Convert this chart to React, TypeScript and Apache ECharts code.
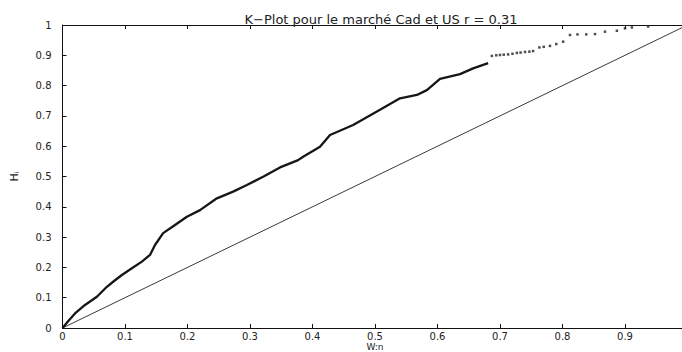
import React, { useEffect, useRef } from "react";
import * as echarts from "echarts";

// Main K-plot curve (W_{i:n}, H_i), dense part
const curveW = [0, 0.01, 0.02, 0.036, 0.055, 0.071, 0.083, 0.095, 0.111, 0.127, 0.14, 0.148, 0.161, 0.18, 0.199, 0.22, 0.247, 0.273, 0.295, 0.321, 0.348, 0.377, 0.385, 0.412, 0.428, 0.465, 0.508, 0.54, 0.567, 0.583, 0.604, 0.636, 0.657, 0.681];
const curveH = [0, 0.025, 0.048, 0.076, 0.103, 0.136, 0.156, 0.175, 0.197, 0.219, 0.241, 0.274, 0.313, 0.34, 0.367, 0.389, 0.428, 0.45, 0.472, 0.499, 0.53, 0.554, 0.565, 0.598, 0.637, 0.67, 0.72, 0.758, 0.769, 0.785, 0.822, 0.838, 0.857, 0.874];

// Sparse tail of the K-plot (individual points)
const tailW = [0.687, 0.694, 0.7, 0.706, 0.713, 0.72, 0.727, 0.733, 0.74, 0.747, 0.753, 0.763, 0.77, 0.78, 0.79, 0.801, 0.812, 0.824, 0.838, 0.852, 0.868, 0.887, 0.9, 0.911, 0.937];
const tailH = [0.898, 0.9, 0.901, 0.902, 0.903, 0.905, 0.908, 0.909, 0.911, 0.912, 0.914, 0.926, 0.928, 0.931, 0.937, 0.945, 0.967, 0.969, 0.969, 0.97, 0.978, 0.981, 0.989, 0.992, 0.995];

// Reference diagonal H = W
const diagW = [0, 1];
const diagH = [0, 1];

const titleText = "K\u2212Plot pour le marché Cad et US r = 0.31";
const xName = "W:n";

const fmt = (v: number) => {
  if (v === 0) return "0";
  if (Math.abs(v - 1) < 1e-9) return "1";
  return v.toFixed(1);
};

export default function App() {
  const ref = useRef<HTMLDivElement>(null);
  useEffect(() => {
    if (!ref.current) return;
    const chart = echarts.init(ref.current, null, { renderer: "svg" });
    const font = "DejaVu Sans";
    const axisLine = { show: true, onZero: false, lineStyle: { color: "#111", width: 1 } };
    const axisTick = { show: true, inside: true, length: 4, lineStyle: { color: "#111", width: 1 } };
    chart.setOption({
      animation: false,
      backgroundColor: "#ffffff",
      title: {
        text: titleText,
        left: 376,
        textAlign: "center",
        top: 8,
        textStyle: { fontFamily: font, fontSize: 13, fontWeight: "normal", color: "#222" },
      },
      grid: { left: 62.5, top: 25, width: 625, height: 303, containLabel: false, outerBoundsMode: "none" },
      xAxis: [
        {
          type: "value",
          min: 0,
          max: 1,
          interval: 0.1,
          position: "bottom",
          axisLine,
          axisTick,
          splitLine: { show: false },
          axisLabel: {
            fontFamily: font,
            fontSize: 10,
            lineHeight: 9,
            color: "#222",
            margin: 4,
            formatter: (v: number) => (Math.abs(v - 1) < 1e-9 ? "" : fmt(v)),
          },
          name: xName,
          nameLocation: "middle",
          nameGap: 14,
          nameMoveOverlap: false,
          nameTextStyle: { fontFamily: font, fontSize: 9, lineHeight: 9, color: "#222", verticalAlign: "top" },
        },
        {
          type: "value",
          min: 0,
          max: 1,
          interval: 0.1,
          position: "top",
          axisLine,
          axisTick,
          splitLine: { show: false },
          axisLabel: { show: false },
        },
      ],
      yAxis: [
        {
          type: "value",
          min: 0,
          max: 1,
          interval: 0.1,
          position: "left",
          axisLine,
          axisTick,
          splitLine: { show: false },
          axisLabel: { fontFamily: font, fontSize: 10, color: "#222", margin: 11, formatter: fmt },
          name: "H{s|i}",
          nameLocation: "middle",
          nameGap: 42,
          nameRotate: 90,
          nameMoveOverlap: false,
          nameTextStyle: {
            fontFamily: font,
            fontSize: 11,
            color: "#222",
            rich: { s: { fontFamily: font, fontSize: 7, color: "#222", verticalAlign: "bottom", padding: [6, 0, 0, 0] } },
          },
        },
        {
          type: "value",
          min: 0,
          max: 1,
          interval: 0.1,
          position: "right",
          axisLine,
          axisTick,
          splitLine: { show: false },
          axisLabel: { show: false },
        },
      ],
      series: [
        {
          type: "line",
          data: diagW.map((w, i) => [w, diagH[i]]),
          showSymbol: false,
          lineStyle: { color: "#3a3a3a", width: 1 },
          silent: true,
        },
        {
          type: "line",
          data: curveW.map((w, i) => [w, curveH[i]]),
          showSymbol: false,
          lineStyle: { color: "#161616", width: 2.3 },
          silent: true,
        },
        {
          type: "scatter",
          data: tailW.map((w, i) => [w, tailH[i]]),
          symbol: "rect",
          symbolSize: 2.5,
          itemStyle: { color: "#222" },
          silent: true,
        },
      ],
    });
    return () => chart.dispose();
  }, []);
  return (
    <div
      ref={ref}
      style={{ position: "absolute", left: 0, top: 0, width: 682, height: 352 }}
    />
  );
}
